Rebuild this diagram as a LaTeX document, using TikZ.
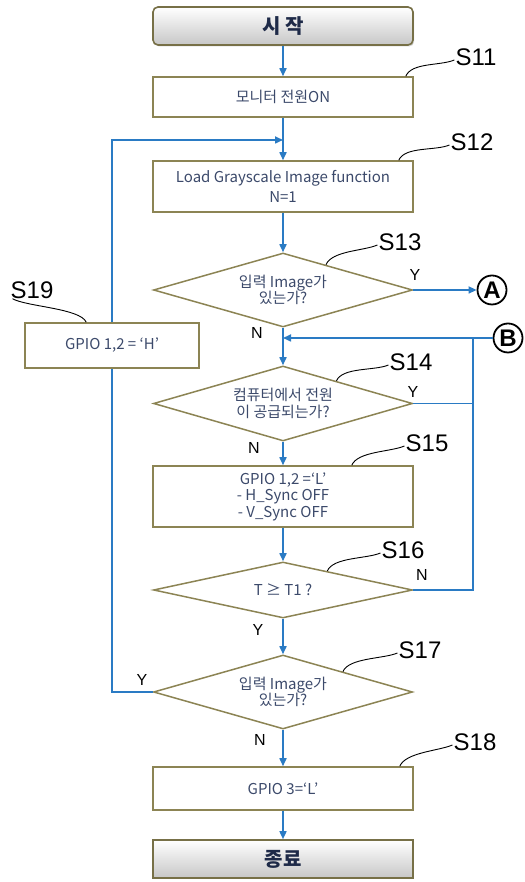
\documentclass[tikz,border=0pt]{standalone}
\usepackage{fontspec}
\setmainfont{Noto Sans CJK KR}
\newfontfamily\tagfont{Liberation Sans}
\usetikzlibrary{arrows.meta,calc,shapes.geometric,shadows}
\definecolor{FCBorder}{HTML}{8C8454}
\definecolor{FCText}{HTML}{3C4A6B}
\definecolor{FCHead}{HTML}{1E2A48}
\definecolor{FCBlue}{HTML}{2A7BC4}
\tikzset{
  flow/.style={-{Triangle[length=8pt,width=7pt]},FCBlue,line width=1.6pt},
  wire/.style={FCBlue,line width=1.6pt},
  proc/.style={draw=FCBorder,line width=1.5pt,fill=white,text=FCText,
               minimum width=260pt,align=center,
               font=\fontsize{15}{16.5}\selectfont},
  decide/.style={diamond,draw=FCBorder,line width=1.5pt,fill=white,text=FCText,
                 minimum width=259pt,minimum height=74pt,aspect=3.5,inner sep=0pt,
                 align=center,font=\fontsize{15}{16.5}\selectfont},
  termbox/.style={draw=FCBorder!85!black,line width=1.6pt,
                  top color=white,middle color=white,bottom color=black!22,
                  drop shadow={shadow xshift=1.2pt,shadow yshift=-1.5pt,opacity=.35},
                  text=FCHead,font=\fontsize{20}{22}\selectfont\bfseries,
                  minimum width=260pt,minimum height=38pt},
  steptag/.style={font=\tagfont\fontsize{24}{24}\selectfont,inner sep=1pt},
  yn/.style={font=\tagfont\fontsize{16}{16}\selectfont,inner sep=0pt},
  leader/.style={black,line width=.9pt},
  jump/.style={circle,draw,line width=1.8pt,minimum size=29pt,inner sep=0pt,
               font=\tagfont\bfseries\fontsize{24}{24}\selectfont},
}

\begin{document}
\begin{tikzpicture}[x=1pt,y=1pt]
  \useasboundingbox (0,0) rectangle (524,882);

  % main column
  \node[termbox,rounded corners=5pt] (start) at (283,856) {시 작};
  \node[proc,minimum height=40pt] (s11) at (283,785) {모니터 전원ON};
  \node[proc,minimum height=51pt,font=\fontsize{15}{20}\selectfont] (s12) at (283,695.5)
    {Load Grayscale Image function\\N=1};
  \node[decide] (s13) at (283,592) {입력 Image가\\있는가?};
  \node[decide,minimum height=75pt] (s14) at (283,478.5) {컴퓨터에서 전원\\이 공급되는가?};
  \node[proc,minimum height=61pt] (s15) at (283,385.5)
    {GPIO 1,2 =‘L’\\- H\_Sync OFF\\- V\_Sync OFF};
  \node[decide,minimum height=56pt] (s16) at (283,292) {T ≥ T1 ?};
  \node[decide] (s17) at (283,190) {입력 Image가\\있는가?};
  \node[proc,minimum height=43pt] (s18) at (283,93.5) {GPIO 3=‘L’};
  \node[termbox] (stop) at (283,23) {종료};

  \node[proc,minimum width=174pt,minimum height=45pt] (s19) at (112,536.5) {GPIO 1,2 = ‘H’};

  \node[jump] (ptA) at (492,592) {A};
  \node[jump] (ptB) at (508,544) {B};

  \coordinate (join1) at (283,742);
  \coordinate (join2) at (283,544);
  \coordinate (rail) at (473,544);

  % connectors
  \draw[flow] (start) -- (s11);
  \draw[flow] (s11) -- (s12);
  \draw[flow] (s19) |- (join1);
  \draw[flow] (s12) -- (s13);
  \draw[flow] (s13.east) -- (ptA);
  \draw[flow] (s13) -- (s14);
  \draw[flow] (ptB) -- (join2);
  \draw[wire] (s14.east) -- (s14.east -| rail);
  \draw[wire] (s16.east) -| (rail);
  \draw[flow] (s14) -- (s15);
  \draw[flow] (s15) -- (s16);
  \draw[flow] (s16) -- (s17);
  \draw[wire] (s17.west) -| (s19);
  \draw[flow] (s17) -- (s18);
  \draw[flow] (s18) -- (stop);

  % branch letters
  \node[yn] (n13) at (257,549) {N};
  \node[yn] (y13) at (415,607) {Y};
  \node[yn] (n14) at (254,434) {N};
  \node[yn] (y14) at (413,490) {Y};
  \node[yn] (n16) at (422,307) {N};
  \node[yn] (y16) at (258,252) {Y};
  \node[yn] (y17) at (142,202) {Y};
  \node[yn] (n17) at (260,142) {N};

  % step tags
  \node[steptag] (t11) at (476,825) {S11};
  \node[steptag] (t12) at (472,740) {S12};
  \node[steptag] (t13) at (400,640) {S13};
  \node[steptag] (t14) at (411,520) {S14};
  \node[steptag] (t15) at (427,439) {S15};
  \node[steptag] (t16) at (403,332) {S16};
  \node[steptag] (t17) at (420,232) {S17};
  \node[steptag] (t18) at (475,140) {S18};
  \node[steptag] (t19) at (32,592) {S19};

  \draw[leader] (s11.north east) ++(-8,0) .. controls +(6,14) and +(-14,-6) .. ($(t11.west)+(0,-3)$);
  \draw[leader] (s12.north east) ++(-15,0) .. controls +(6,14) and +(-14,-6) .. ($(t12.west)+(0,-3)$);
  \draw[leader] ($(s13.north)!.33!(s13.east)$) .. controls +(6,14) and +(-14,-6) .. ($(t13.west)+(0,-3)$);
  \draw[leader] ($(s14.north)!.41!(s14.east)$) .. controls +(6,14) and +(-14,-6) .. ($(t14.west)+(0,-3)$);
  \draw[leader] (s15.north east) ++(-62,0) .. controls +(6,14) and +(-14,-6) .. ($(t15.west)+(0,-3)$);
  \draw[leader] ($(s16.north)!.34!(s16.east)$) .. controls +(6,14) and +(-14,-6) .. ($(t16.west)+(0,-3)$);
  \draw[leader] ($(s17.north)!.46!(s17.east)$) .. controls +(6,14) and +(-14,-6) .. ($(t17.west)+(0,-3)$);
  \draw[leader] (s18.north east) ++(-14,0) .. controls +(6,14) and +(-14,-6) .. ($(t18.west)+(0,-3)$);
  \draw[leader] ($(t19.south west)+(3,1)$) .. controls +(14,-8) and +(-6,14) .. ($(s19.north west)+(62,0)$);
\end{tikzpicture}
\end{document}
